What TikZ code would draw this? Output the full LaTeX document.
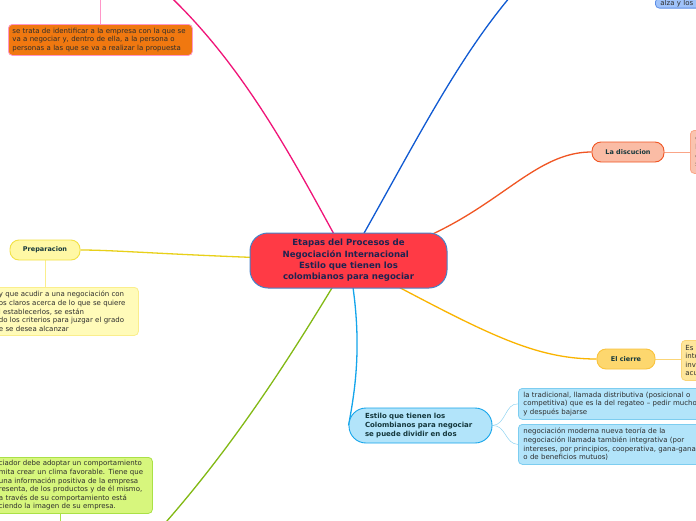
\documentclass[tikz,border=0pt]{standalone}
\usepackage{fontspec}
\setmainfont{DejaVu Sans}
\usetikzlibrary{backgrounds}

\definecolor{centrered}{RGB}{255, 58, 69}
\definecolor{centreline}{RGB}{70, 130, 200}
\definecolor{navytext}{RGB}{30, 35, 80}
\definecolor{topictext}{RGB}{20, 55, 60}
\definecolor{notetext}{RGB}{45, 45, 45}
\definecolor{pinkline}{RGB}{240, 20, 120}
\definecolor{pinklight}{RGB}{255, 150, 200}
\definecolor{orangefill}{RGB}{240, 120, 16}
\definecolor{blueline}{RGB}{16, 90, 210}
\definecolor{bluefill}{RGB}{160, 195, 250}
\definecolor{bluedraw}{RGB}{90, 140, 230}
\definecolor{discline}{RGB}{240, 85, 35}
\definecolor{discfill}{RGB}{250, 188, 165}
\definecolor{discnotefill}{RGB}{250, 195, 175}
\definecolor{disclight}{RGB}{250, 165, 135}
\definecolor{cierreline}{RGB}{250, 180, 0}
\definecolor{cierrefill}{RGB}{253, 215, 110}
\definecolor{cierredraw}{RGB}{250, 195, 60}
\definecolor{cierrenotefill}{RGB}{254, 230, 155}
\definecolor{estiloline}{RGB}{20, 165, 235}
\definecolor{estilofill}{RGB}{178, 228, 250}
\definecolor{estilolight}{RGB}{125, 205, 240}
\definecolor{prepline}{RGB}{232, 208, 25}
\definecolor{prepfill}{RGB}{255, 248, 165}
\definecolor{prepdraw}{RGB}{242, 225, 70}
\definecolor{prepnotefill}{RGB}{255, 251, 185}
\definecolor{preplight}{RGB}{250, 238, 140}
\definecolor{greenline}{RGB}{130, 185, 20}
\definecolor{greenfill}{RGB}{215, 246, 125}
\definecolor{greendraw}{RGB}{170, 225, 70}

\begin{document}
\begin{tikzpicture}[x=1pt, y=-1pt, line width=1pt,
        rama/.style={line width=1.3pt},
        topic/.style={draw, rounded corners=9pt, line width=0.9pt, text=topictext,
            font=\fontsize{6.5}{8.5}\selectfont\bfseries, inner sep=2pt, minimum height=20pt},
        note/.style={rounded corners=4pt, line width=0.8pt, text=notetext, align=left,
            font=\fontsize{7}{8.6}\selectfont, inner xsep=5pt, inner ysep=3pt, anchor=north west}]

    \useasboundingbox (0,0) rectangle (696,520);
    \clip (0,0) rectangle (696,520);

    % --- tema central ---
    \node[draw=centreline, fill=centrered, rounded corners=18pt, line width=1pt,
          minimum width=197pt, minimum height=55pt, align=center, text=navytext,
          font=\fontsize{8.6}{11.4}\selectfont\bfseries] (centre) at (348.5,260.5)
          {Etapas del Procesos de\\Negociación Internacional\hphantom{x}\\Estilo que tienen los\\colombianos para negociar};

    % --- ramas principales ---
    \node[topic, draw=discline, fill=discfill, minimum width=72pt] (discucion) at (628,152) {La discucion};
    \node[topic, draw=cierredraw, fill=cierrefill, minimum width=58pt] (cierre) at (626,359) {El cierre};
    \node[topic, draw=prepdraw, fill=prepfill, minimum width=70pt] (preparacion) at (45,250) {Preparacion};
    \node[topic, draw=estiloline, fill=estilofill, rounded corners=17pt, minimum width=143pt,
          minimum height=35pt, text width=111pt, align=left, inner xsep=16pt,
          font=\fontsize{7}{8.8}\selectfont\bfseries] (estilo) at (420.5,425.5)
          {Estilo que tienen los\\Colombianos para negociar\\se puede dividir en dos};

    % --- notas ---
    \node[note, draw=pinklight, fill=orangefill, text width=176pt, inner xsep=4pt, minimum height=31pt] (identificar) at (8,24)
          {se trata de identificar a la empresa con la que se\\va a negociar y, dentro de ella, a la persona o\\personas a las que se va a realizar la propuesta};
    \node[note, draw=bluedraw, fill=bluefill, text width=60pt, inner ysep=1.6pt,
          anchor=south west] (alza) at (655,8.5) {alza y los};
    \node[note, draw=disclight, fill=discnotefill, text width=40pt, minimum height=43pt] (discnota) at (690,130)
          {e\\b\\e\\s};
    \node[note, draw=cierredraw!70, fill=cierrenotefill, text width=40pt, minimum height=40pt, inner xsep=4pt] (cierrenota) at (681,340)
          {Es\\inte\\inv\\acu};
    \node[note, draw=preplight, fill=prepnotefill, text width=136pt, minimum height=48pt, inner xsep=3.5pt] (prepnota) at (-5,287)
          {y que acudir a una negociación con\\os claros acerca de lo que se quiere\\l establecerlos, se están\\do los criterios para juzgar el grado\\e se desea alcanzar};
    \node[note, draw=greendraw, fill=greenfill, text width=150pt, minimum height=56pt, inner xsep=3.5pt] (clima) at (-5,457)
          {ciador debe adoptar un comportamiento\\mita crear un clima favorable. Tiene que\\una información positiva de la empresa\\resenta, de los productos y de él mismo,\\a través de su comportamiento está\\ciendo la imagen de su empresa.};
    \node[note, draw=estilolight, fill=estilofill, text width=200pt, minimum height=31pt] (tradicional) at (518,388)
          {la tradicional, llamada distributiva (posicional o\\competitiva) que es la del regateo – pedir mucho\\y después bajarse};
    \node[note, draw=estilolight, fill=estilofill, text width=200pt, minimum height=40pt] (moderna) at (518,424)
          {negociación moderna nueva teoría de la\\negociación llamada también integrativa (por\\intereses, por principios, cooperativa, gana-gana\\o de beneficios mutuos)};

    % --- puntos libres fuera del recorte ---
    \coordinate (arriba-izq) at (140,-30);
    \coordinate (arriba-der) at (525,-20);
    \coordinate (abajo-izq) at (150,540);
    \coordinate (bajo-clima) at (60,530);
    \coordinate (sobre-identificar) at (100,-10);

    % --- conectores (detrás de los nodos) ---
    \begin{scope}[on background layer]
        \fill[white] (0,0) rectangle (696,520);
        \draw[rama, pinkline] (centre.center) .. controls (298,170) and (240,50) .. (arriba-izq);
        \draw[rama, blueline] (centre.center) .. controls (412,150) and (460,50) .. (arriba-der);
        \draw[rama, discline] (centre.center) .. controls (485,236) and (522,152) .. (discucion.west);
        \draw[rama, cierreline] (centre.center) .. controls (480,330) and (530,359) .. (cierre.west);
        \draw[rama, estiloline] (centre.center) .. controls (364,340) and (355,390) .. (estilo.west);
        \draw[rama, prepline] (centre.center) .. controls (180,256) and (120,250) .. (preparacion.east);
        \draw[rama, greenline] (centre.center) .. controls (292,355) and (232,450) .. (abajo-izq);

        \draw[pinklight] (identificar.north -| sobre-identificar) -- (sobre-identificar);
        \draw[preplight] (preparacion.south) -- (preparacion.south |- prepnota.north);
        \draw[greendraw] (clima.south -| bajo-clima) -- (bajo-clima);
        \draw[disclight] (discucion.east) -- (discucion.east -| discnota.west);
        \draw[cierredraw!70] (cierre.east) -- (cierre.east -| cierrenota.west);
        \draw[estilolight] (estilo.east) .. controls (506,425) and (505,403) .. (tradicional.west);
        \draw[estilolight] (estilo.east) .. controls (506,425) and (505,444) .. (moderna.west);
    \end{scope}

\end{tikzpicture}
\end{document}
